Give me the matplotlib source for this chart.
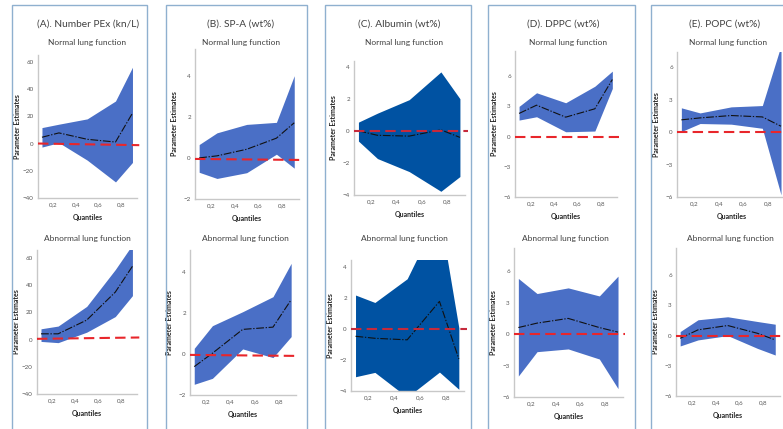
import matplotlib
matplotlib.use("Agg")
import matplotlib.pyplot as plt
from matplotlib.patches import Rectangle
from matplotlib.ticker import FuncFormatter

plt.rcParams['font.family'] = ['Lato', 'DejaVu Sans']

W, H = 783, 429

# ---------------- data ----------------
quantiles = [0.1, 0.25, 0.5, 0.75, 0.9]
xticks = [0.2, 0.4, 0.6, 0.8]

panel_titles = ["(A). Number PEx (kn/L)", "(B). SP-A (wt%)", "(C). Albumin (wt%)",
                "(D). DPPC (wt%)", "(E). POPC (wt%)"]
row_titles = ["Normal lung function", "Abnormal lung function"]

a_yticks = [-40, -20, 0, 20, 40, 60]
b_yticks = [-2, 0, 2, 4]
c_yticks = [-4, -2, 0, 2, 4]
d_yticks = [-6, -3, 0, 3, 6]
e_yticks = [-6, -3, 0, 3, 6]

# (A) Number PEx
a_norm_est = [4.6, 7.8, 3.1, 1.1, 22.3]
a_norm_lo = [-2.6, 0.6, -12.2, -28.2, -13.9]
a_norm_hi = [11.7, 14.2, 18.1, 31.2, 56.0]
a_norm_ref = [0.0, -1.2]
a_abn_est = [4.3, 4.3, 14.4, 35.0, 54.0]
a_abn_lo = [-1.3, -2.2, 5.5, 17.0, 32.4]
a_abn_hi = [8.0, 10.0, 24.5, 51.6, 70.0]
a_abn_ref = [0.6, 1.6]

# (B) SP-A
b_norm_est = [0.0, 0.1, 0.42, 0.96, 1.71]
b_norm_lo = [-0.7, -1.0, -0.72, 0.18, -0.5]
b_norm_hi = [0.65, 1.22, 1.63, 1.73, 4.0]
b_norm_ref = [-0.05, -0.1]
b_abn_est = [-0.62, 0.03, 1.19, 1.3, 2.63]
b_abn_lo = [-1.48, -1.19, 0.24, -0.18, 0.84]
b_abn_hi = [0.27, 1.37, 2.05, 2.78, 4.4]
b_abn_ref = [-0.05, -0.1]

# (C) Albumin
c_norm_est = [0.0, -0.28, -0.33, 0.06, -0.41]
c_norm_lo = [-0.64, -1.73, -2.54, -3.77, -2.85]
c_norm_hi = [0.54, 1.1, 1.94, 3.67, 2.0]
c_norm_ref = [0.0, 0.0]
c_abn_est = [-0.47, -0.6, -0.7, 1.78, -1.93]
c_abn_lo = [-3.08, -2.8, -4.4, -2.78, -3.89]
c_abn_hi = [2.19, 1.71, 3.24, 7.5, 0.08]
c_abn_ref = [0.0, 0.0]

# (D) DPPC
d_norm_est = [2.3, 3.12, 1.93, 2.76, 5.67]
d_norm_lo = [1.64, 1.97, 0.48, 0.55, 4.78]
d_norm_hi = [3.0, 4.35, 3.36, 5.0, 6.5]
d_norm_ref = [0.0, 0.0]
d_abn_est = [0.62, 1.04, 1.49, 0.62, 0.18]
d_abn_lo = [-4.0, -1.68, -1.42, -2.38, -5.2]
d_abn_hi = [5.3, 3.86, 4.4, 3.63, 5.52]
d_abn_ref = [0.0, 0.0]

# (E) POPC
e_norm_est = [1.13, 1.31, 1.53, 1.4, 0.54]
e_norm_lo = [0.05, 0.79, 0.73, 0.35, -5.8]
e_norm_hi = [2.24, 1.77, 2.33, 2.45, 8.0]
e_norm_ref = [0.0, 0.0]
e_abn_est = [-0.27, 0.57, 1.0, 0.23, -0.43]
e_abn_lo = [-1.03, -0.43, 0.0, -1.27, -1.93]
e_abn_hi = [0.4, 1.57, 1.87, 1.4, 1.13]
e_abn_ref = [0.0, 0.0]

# ---------------- layout / style ----------------
fill_light = '#4A6FC6'
fill_dark = '#0052A2'
red_light = '#E8262B'
red_dark = '#C62A3C'
txt = '#404040'

panels = [
    dict(yt=a_yticks, fill=fill_light, red=red_light,
         rows=[(a_norm_est, a_norm_lo, a_norm_hi, a_norm_ref, (-40, 65), (38, 55, 137, 198)),
               (a_abn_est, a_abn_lo, a_abn_hi, a_abn_ref, (-40, 66), (37, 250, 137, 394))]),
    dict(yt=b_yticks, fill=fill_light, red=red_light,
         rows=[(b_norm_est, b_norm_lo, b_norm_hi, b_norm_ref, (-2, 5.3), (195, 49, 299, 199)),
               (b_abn_est, b_abn_lo, b_abn_hi, b_abn_ref, (-2, 5.05), (190, 250, 296, 395))]),
    dict(yt=c_yticks, fill=fill_dark, red=red_dark,
         rows=[(c_norm_est, c_norm_lo, c_norm_hi, c_norm_ref, (-4, 4.35), (354, 61, 465, 195)),
               (c_abn_est, c_abn_lo, c_abn_hi, c_abn_ref, (-4, 4.45), (351, 260, 464, 391))]),
    dict(yt=d_yticks, fill=fill_light, red=red_light,
         rows=[(d_norm_est, d_norm_lo, d_norm_hi, d_norm_ref, (-6, 8.5), (515, 51, 617, 197)),
               (d_abn_est, d_abn_lo, d_abn_hi, d_abn_ref, (-6, 8.2), (514, 248, 623, 397))]),
    dict(yt=e_yticks, fill=fill_light, red=red_light,
         rows=[(e_norm_est, e_norm_lo, e_norm_hi, e_norm_ref, (-6, 7.4), (677, 52, 786, 197)),
               (e_abn_est, e_abn_lo, e_abn_hi, e_abn_ref, (-6, 8.7), (676, 248, 780, 396))]),
]

title_pos = [(88, 24), (241, 24), (399, 24), (563, 24), (725, 24)]
sub_top_pos = [(87, 42), (241, 42), (404, 42), (568, 42), (728, 42)]
sub_bot_pos = [(87, 238), (245, 238), (404, 238), (565, 238), (730, 238)]
boxes = [(12, 147), (166, 307), (325, 471), (488, 635), (651, 800)]

XLIM = (0.065, 0.94)

fig = plt.figure(figsize=(W / 100, H / 100), dpi=100)
fig.patch.set_facecolor('white')

for (x0, x1) in boxes:
    fig.patches.append(Rectangle((x0 / W, -0.05), (x1 - x0) / W, 1.05 - 5 / H,
                                 transform=fig.transFigure, fill=False,
                                 edgecolor='#8FB0CF', lw=1.0, zorder=0))

xfmt = FuncFormatter(lambda v, p: f"{v:.1f}".replace('.', ','))

for i, p in enumerate(panels):
    fig.text(title_pos[i][0] / W, 1 - title_pos[i][1] / H, panel_titles[i],
             ha='center', va='center', fontsize=7.3, color=txt)
    fig.text(sub_top_pos[i][0] / W, 1 - sub_top_pos[i][1] / H, row_titles[0],
             ha='center', va='center', fontsize=6, color=txt)
    fig.text(sub_bot_pos[i][0] / W, 1 - sub_bot_pos[i][1] / H, row_titles[1],
             ha='center', va='center', fontsize=6, color=txt)
    for (est, lo, hi, ref, ylim, rect) in p['rows']:
        l, t, r, b = rect
        ax = fig.add_axes([l / W, 1 - b / H, (r - l) / W, (b - t) / H])
        ax.fill_between(quantiles, lo, hi, color=p['fill'], lw=0, zorder=1)
        ax.plot(quantiles, est, color='#111111', lw=0.8,
                linestyle=(0, (7, 1.5, 1.2, 1.5)), zorder=3)
        ax.plot([XLIM[0], XLIM[1] + 0.02], ref, color=p['red'], lw=1.5,
                linestyle=(0, (5, 2.5)), zorder=4, clip_on=False)
        ax.set_xlim(*XLIM)
        ax.set_ylim(*ylim)
        ax.set_xticks(xticks)
        ax.xaxis.set_major_formatter(xfmt)
        ax.set_yticks(p['yt'])
        ax.tick_params(length=0, labelsize=4.5, labelcolor='#595959', pad=3)
        for s in ['top', 'right']:
            ax.spines[s].set_visible(False)
        for s in ['left', 'bottom']:
            ax.spines[s].set_color('#C8C8C8')
            ax.spines[s].set_linewidth(1.0)
        ax.set_facecolor('none')
        ax.set_ylabel("Parameter Estimates", fontsize=5, fontweight='bold', color='#222222')
        ax.yaxis.set_label_coords(-17 / (r - l), 0.5)
        ax.set_xlabel("Quantiles", fontsize=5, fontweight='bold', color='#222222')
        ax.xaxis.set_label_coords(0.5, -16 / (b - t))

fig.savefig("out.png", dpi=100, facecolor='white')
